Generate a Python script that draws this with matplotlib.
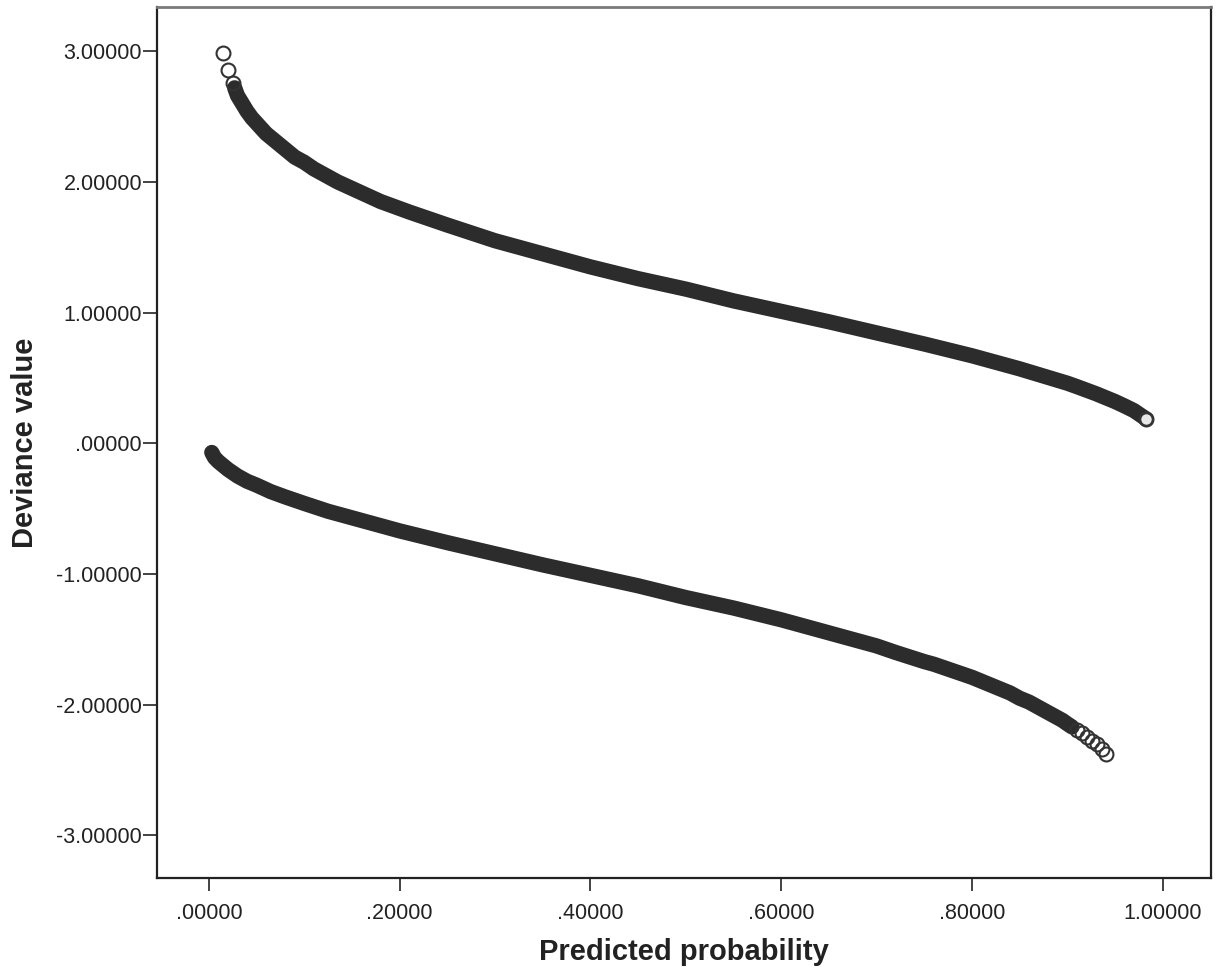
import matplotlib
matplotlib.use("Agg")
import matplotlib.pyplot as plt

plt.rcParams['font.family'] = ['Liberation Sans', 'DejaVu Sans']

# ---- data ----
# upper branch (observed = 1): dense band
upper_x = [0.027, 0.030, 0.035, 0.040, 0.045, 0.050, 0.060, 0.070, 0.080, 0.090,
           0.100, 0.110, 0.120, 0.135, 0.150, 0.180, 0.210, 0.250, 0.300, 0.350,
           0.400, 0.450, 0.500, 0.550, 0.600, 0.650, 0.700, 0.750, 0.800, 0.850,
           0.900, 0.910, 0.930, 0.950, 0.960, 0.970, 0.975, 0.983]
upper_y = [2.72, 2.66, 2.60, 2.54, 2.49, 2.45, 2.37, 2.31, 2.25, 2.19,
           2.15, 2.10, 2.06, 2.00, 1.95, 1.85, 1.77, 1.67, 1.55, 1.45,
           1.35, 1.26, 1.18, 1.09, 1.01, 0.93, 0.845, 0.76, 0.67, 0.57,
           0.46, 0.434, 0.38, 0.32, 0.286, 0.25, 0.225, 0.185]
# upper branch: isolated points
upper_sparse_x = [0.0143, 0.0197, 0.0255]
upper_sparse_y = [2.99, 2.86, 2.76]
upper_end_x = [0.983]
upper_end_y = [0.185]

# lower branch (observed = 0): dense band
lower_x = [0.003, 0.006, 0.010, 0.015, 0.020, 0.030, 0.040, 0.050, 0.065, 0.080,
           0.100, 0.125, 0.150, 0.200, 0.250, 0.300, 0.350, 0.400, 0.450, 0.500,
           0.550, 0.600, 0.650, 0.680, 0.700, 0.720, 0.750, 0.760, 0.780, 0.800,
           0.820, 0.830, 0.840, 0.850, 0.860, 0.870, 0.880, 0.890, 0.895, 0.900,
           0.905]
lower_y = [-0.07, -0.11, -0.14, -0.17, -0.20, -0.25, -0.29, -0.32, -0.37, -0.41,
           -0.46, -0.52, -0.57, -0.67, -0.76, -0.845, -0.93, -1.01, -1.09, -1.18,
           -1.26, -1.35, -1.45, -1.51, -1.55, -1.60, -1.67, -1.69, -1.74, -1.79,
           -1.85, -1.88, -1.91, -1.95, -1.98, -2.02, -2.06, -2.10, -2.12, -2.146,
           -2.17]
# lower branch: isolated points at the far right
lower_sparse_x = [0.910, 0.915, 0.921, 0.926, 0.931, 0.936, 0.941]
lower_sparse_y = [-2.19, -2.22, -2.25, -2.28, -2.30, -2.34, -2.38]

x_ticks = [0.0, 0.2, 0.4, 0.6, 0.8, 1.0]
x_tick_labels = ['.00000', '.20000', '.40000', '.60000', '.80000', '1.00000']
y_ticks = [-3, -2, -1, 0, 1, 2, 3]
y_tick_labels = ['-3.00000', '-2.00000', '-1.00000', '.00000', '1.00000', '2.00000', '3.00000']

# ---- figure ----
fig = plt.figure(figsize=(12.16, 9.74), dpi=100)
ax = fig.add_axes([157.3 / 1216, 95.7 / 974, (1211 - 157.3) / 1216, (878.3 - 7.3) / 974])

band_color = '#2c2c2c'
edge_color = '#333333'

ax.plot(upper_x, upper_y, color=band_color, lw=11, solid_capstyle='round',
        solid_joinstyle='round', zorder=2)
ax.plot(lower_x, lower_y, color=band_color, lw=11, solid_capstyle='round',
        solid_joinstyle='round', zorder=2)

ax.plot(upper_sparse_x, upper_sparse_y, linestyle='none', marker='o', ms=10,
        mfc='none', mec=edge_color, mew=1.5, zorder=3)
ax.plot(upper_end_x, upper_end_y, linestyle='none', marker='o', ms=9.5,
        mfc='#e8e8e8', mec=edge_color, mew=2.0, zorder=3)
ax.plot(lower_sparse_x, lower_sparse_y, linestyle='none', marker='o', ms=10,
        mfc='none', mec=edge_color, mew=1.5, zorder=3)

ax.set_xlim(-0.0541, 1.0507)
ax.set_ylim(-3.328, 3.336)

ax.set_xticks(x_ticks)
ax.set_xticklabels(x_tick_labels)
ax.set_yticks(y_ticks)
ax.set_yticklabels(y_tick_labels)

ax.tick_params(axis='x', length=9, width=1.2, pad=9, labelsize=15.5, colors='#222222')
ax.tick_params(axis='y', length=10, width=1.2, pad=1, labelsize=15.5, colors='#222222')

for side in ['left', 'bottom', 'right']:
    ax.spines[side].set_color('#222222')
    ax.spines[side].set_linewidth(1.6)
ax.spines['top'].set_color('#7a7a7a')
ax.spines['top'].set_linewidth(2.0)

fig.text(0.5627, (974 - 952.5) / 974, 'Predicted probability', ha='center', va='center',
         fontsize=21, fontweight='bold', color='#222222')
fig.text(25 / 1216, 0.5454, 'Deviance value', ha='center', va='center', rotation=90,
         fontsize=21, fontweight='bold', color='#222222')

fig.savefig('out.png', dpi=100)
